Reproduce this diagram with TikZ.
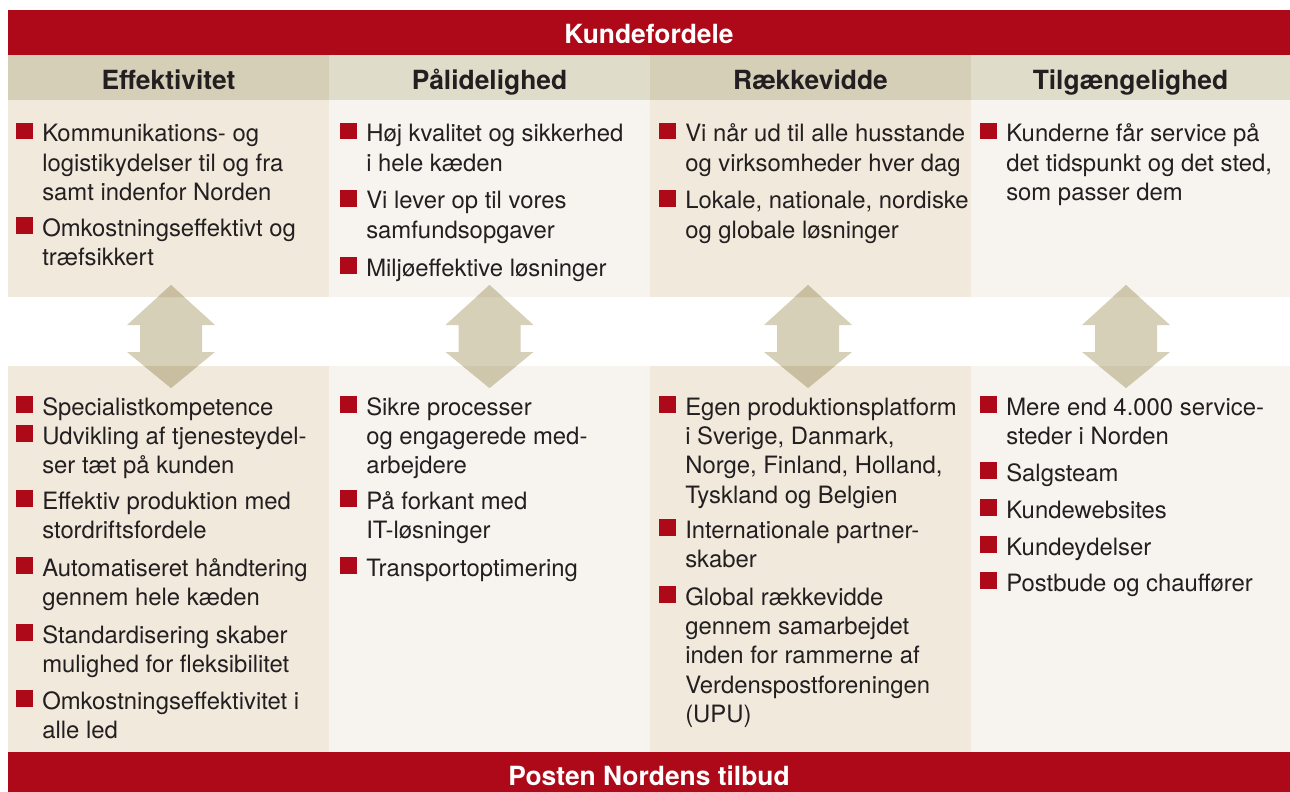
\documentclass[tikz,border=0pt]{standalone}
\usepackage{fontspec}
\setmainfont{TeX Gyre Heros}
\definecolor{pnred}{HTML}{AD0918}
\definecolor{hdark}{HTML}{D6CFB8}
\definecolor{hlight}{HTML}{E0DCCA}
\definecolor{bdark}{HTML}{F0E9DC}
\definecolor{blight}{HTML}{F7F4EF}
\definecolor{arrowc}{HTML}{D6D0B8}
\definecolor{arrowondark}{HTML}{C9BE9F}
\definecolor{arrowonlight}{HTML}{CFC7AC}
\definecolor{txt}{HTML}{231F20}
\newcommand\dblarrow[1]{(#1,285) -- (#1+44,325) -- (#1+31,325) -- (#1+31,352) -- (#1+44,352) -- (#1,388) -- (#1-44,352) -- (#1-31,352) -- (#1-31,325) -- (#1-44,325) -- cycle}
\newcommand\bitem[4]{%
  \fill[pnred] (#2-26,#3-19) rectangle (#2-9.5,#3-2.5);
  \node[itemtext] (#1) at (#2,#3) {\parbox[t]{300pt}{\raggedright #4}};}
\begin{document}
\begin{tikzpicture}[x=0.75pt,y=-0.75pt,
  itemtext/.style={anchor=base west, inner sep=0pt, text=txt,
    font=\fontsize{17.9}{22}\selectfont},
  headtext/.style={anchor=base, inner sep=0pt, text=txt,
    font=\fontsize{19.8}{24}\selectfont\bfseries},
  bandtext/.style={anchor=base, inner sep=0pt, text=white,
    font=\fontsize{19.8}{24}\selectfont\bfseries}]
\useasboundingbox (0,0) rectangle (1290,792);
% bands
\fill[pnred] (8,10) rectangle (1290,55);
\fill[pnred] (8,752) rectangle (1290,792);
% header row
\fill[hdark] (8,55) rectangle (329,100);
\fill[hlight] (329,55) rectangle (650,100);
\fill[hdark] (650,55) rectangle (971,100);
\fill[hlight] (971,55) rectangle (1290,100);
% upper bodies
\fill[bdark] (8,100) rectangle (329,297);
\fill[blight] (329,100) rectangle (650,297);
\fill[bdark] (650,100) rectangle (971,297);
\fill[blight] (971,100) rectangle (1290,297);
% lower bodies
\fill[bdark] (8,366) rectangle (329,752);
\fill[blight] (329,366) rectangle (650,752);
\fill[bdark] (650,366) rectangle (971,752);
\fill[blight] (971,366) rectangle (1290,752);
% arrows
\foreach \c/\bodycol in {171/arrowondark, 489.5/arrowonlight, 808/arrowondark, 1126/arrowonlight}{
  \fill[arrowc] \dblarrow{\c};
  \begin{scope}
    \clip (0,0) rectangle (1290,297) (0,366) rectangle (1290,792);
    \fill[\bodycol] \dblarrow{\c};
  \end{scope}
}
% band and header texts
\node[bandtext] (top) at (649,43.5) {Kundefordele};
\node[bandtext] (bottom) at (649,785.5) {Posten Nordens tilbud};
\node[headtext] (h1) at (168.5,89.5) {Effektivitet};
\node[headtext] (h2) at (489.5,89.5) {Pålidelighed};
\node[headtext] (h3) at (810.5,89.5) {Rækkevidde};
\node[headtext] (h4) at (1130.5,89.5) {Tilgængelighed};
% upper items
\bitem{u11}{42}{142}{Kommunikations- og\\logistikydelser til og fra\\samt indenfor Norden}
\bitem{u12}{42}{236}{Omkostningseffektivt og\\træfsikkert}
\bitem{u21}{366}{142}{Høj kvalitet og sikkerhed\\i hele kæden}
\bitem{u22}{366}{209}{Vi lever op til vores\\samfundsopgaver}
\bitem{u23}{366}{276}{Miljøeffektive løsninger}
\bitem{u31}{685}{142}{Vi når ud til alle husstande\\og virksomheder hver dag}
\bitem{u32}{685}{209}{Lokale, nationale, nordiske\\og globale løsninger}
\bitem{u41}{1006}{142}{Kunderne får service på\\det tidspunkt og det sted,\\som passer dem}
% lower items
\bitem{l11}{42}{415}{Specialistkompetence}
\bitem{l12}{42}{444}{Udvikling af tjenesteydel-\\ser tæt på kunden}
\bitem{l13}{42}{509}{Effektiv produktion med\\stordriftsfordele}
\bitem{l14}{42}{576}{Automatiseret håndtering\\gennem hele kæden}
\bitem{l15}{42}{643}{Standardisering skaber\\mulighed for fleksibilitet}
\bitem{l16}{42}{709}{Omkostningseffektivitet i\\alle led}
\bitem{l21}{366}{415}{Sikre processer\\og engagerede med-\\arbejdere}
\bitem{l22}{366}{509}{På forkant med\\IT-løsninger}
\bitem{l23}{366}{576}{Transportoptimering}
\bitem{l31}{685}{415}{Egen produktionsplatform\\i Sverige, Danmark,\\Norge, Finland, Holland,\\Tyskland og Belgien}
\bitem{l32}{685}{538}{Internationale partner-\\skaber}
\bitem{l33}{685}{605}{Global rækkevidde\\gennem samarbejdet\\inden for rammerne af\\Verdenspostforeningen\\(UPU)}
\bitem{l41}{1006}{415}{Mere end 4.000 service-\\steder i Norden}
\bitem{l42}{1006}{481}{Salgsteam}
\bitem{l43}{1006}{518}{Kundewebsites}
\bitem{l44}{1006}{555}{Kundeydelser}
\bitem{l45}{1006}{591}{Postbude og chauffører}
\end{tikzpicture}
\end{document}
